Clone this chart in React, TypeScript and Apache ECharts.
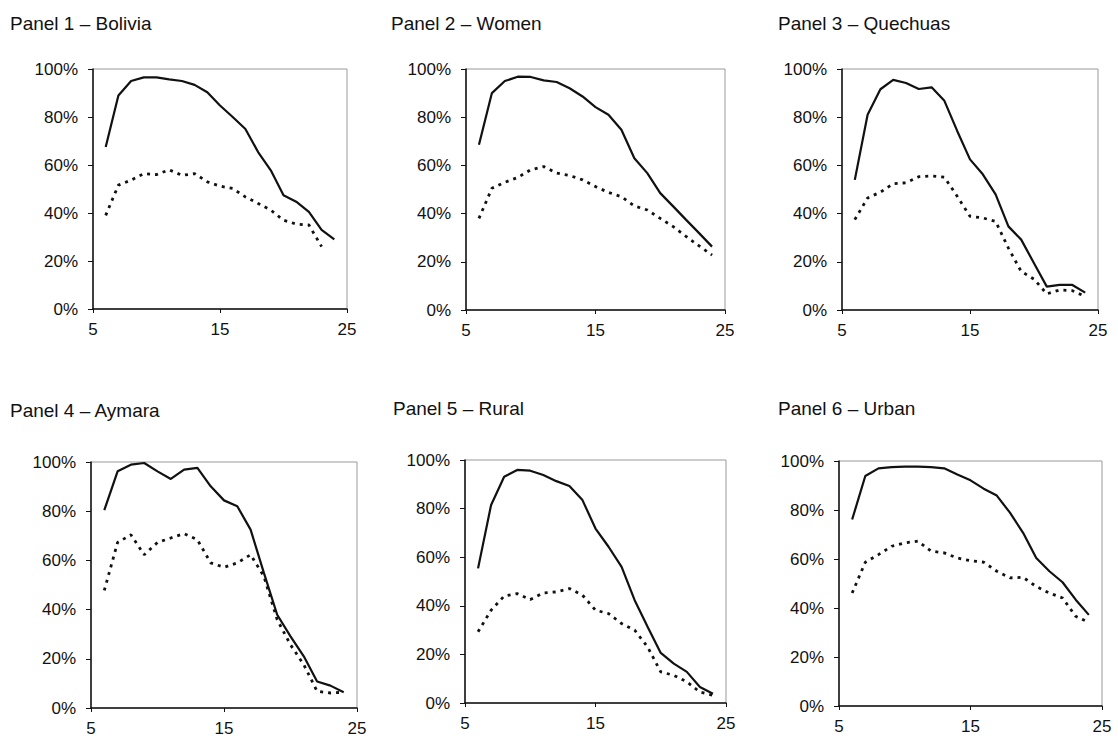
import React, { useEffect, useRef } from "react";
import * as echarts from "echarts";

// ---- data ----
const ages = [6, 7, 8, 9, 10, 11, 12, 13, 14, 15, 16, 17, 18, 19, 20, 21, 22, 23, 24];
const xTicks = [5, 15, 25];
const yTicks = [0, 20, 40, 60, 80, 100];

const titles = [
  "Panel 1 – Bolivia",
  "Panel 2 – Women",
  "Panel 3 – Quechuas",
  "Panel 4 – Aymara",
  "Panel 5 – Rural",
  "Panel 6 – Urban",
];

const solid1 = [67.5, 89, 95, 96.5, 96.5, 95.7, 95, 93.4, 90.3, 84.8, 80, 75, 65.4, 57.8, 47.4, 44.7, 40.5, 33, 29];
const dashed1 = [39, 51.6, 53.7, 56.4, 56, 58, 55.7, 56.4, 53, 51.2, 50.2, 46.7, 44, 41.2, 37, 35.4, 35, 26];

const solid2 = [68.6, 90, 95, 96.8, 96.7, 95.3, 94.6, 92, 88.6, 84.2, 81, 74.8, 63, 56.8, 48.5, 43, 37.4, 31.9, 26.3];
const dashed2 = [38, 50.5, 53, 55, 58.2, 59.5, 56.8, 55.8, 54, 51.2, 48.8, 47, 43.2, 41.5, 38, 34.6, 30.5, 26.6, 22.8];

const solid3 = [54, 81, 91.6, 95.5, 94.2, 91.7, 92.4, 86.8, 74.3, 62.5, 56.3, 48, 34.7, 29.2, 19.4, 9.7, 10.4, 10.4, 7.2];
const dashed3 = [37.5, 46.5, 48.9, 52.4, 52.8, 55.3, 55.6, 55.1, 47.2, 38.9, 38.2, 36.8, 25.7, 16, 12.8, 6.7, 8.3, 8, 5.6];

const solid4 = [80.4, 96.2, 98.9, 99.6, 96.2, 93.1, 96.9, 97.6, 90.1, 84.4, 82, 72.5, 54.9, 37.9, 29.1, 21, 10.8, 9.1, 6.4];
const dashed4 = [47.8, 67.3, 70.4, 62.3, 67.3, 69.1, 70.9, 68.4, 59, 57.2, 59, 62.3, 53.5, 35.9, 25.7, 17.6, 6.8, 6.1, 6.4];

const solid5 = [55.4, 81.5, 93.1, 95.9, 95.6, 93.8, 91.3, 89.3, 83.5, 71.8, 64.3, 56, 42.3, 31.3, 20.6, 16.2, 12.8, 6.6, 3.8];
const dashed5 = [29.3, 38.2, 44, 45, 42.6, 45.3, 45.7, 47.1, 44.4, 38.2, 36.8, 32.7, 30, 23, 12.8, 11.4, 8.7, 4.5, 3.2];

const solid6 = [76.1, 93.9, 97, 97.5, 97.7, 97.7, 97.5, 97, 94.5, 92.1, 88.7, 85.9, 78.9, 70.7, 60.4, 55, 50.5, 43.4, 37.2];
const dashed6 = [46.1, 58.7, 61.8, 65.2, 66.6, 67.3, 63.2, 62.5, 60.4, 59.3, 58.7, 55, 52.3, 52.5, 48.8, 46.1, 44.1, 36.6, 34.1];

const solidSeries = [solid1, solid2, solid3, solid4, solid5, solid6];
const dashedSeries = [dashed1, dashed2, dashed3, dashed4, dashed5, dashed6];

// ---- layout ----
const gridRects = [
  { left: 93, top: 69, width: 254, height: 240 },
  { left: 466, top: 69, width: 259, height: 241 },
  { left: 842, top: 69, width: 256, height: 241 },
  { left: 91, top: 462, width: 266, height: 246 },
  { left: 465, top: 460, width: 261, height: 243 },
  { left: 839, top: 461, width: 263, height: 245 },
];
const titlePos = [
  [10, 30],
  [391, 30],
  [778, 30],
  [10, 417],
  [393, 415],
  [778, 415],
];

const FONT = '"Liberation Sans", Arial, sans-serif';
const INK = "#111";

function pairs(vals: number[]) {
  return vals.map((v, i) => [ages[i], v]);
}

export default function App() {
  const ref = useRef<HTMLDivElement>(null);
  useEffect(() => {
    if (!ref.current) return;
    const chart = echarts.init(ref.current, null, { renderer: "svg" });
    const grids = gridRects.map((r) => ({
      ...r,
      show: true,
      borderColor: "#999",
      borderWidth: 1,
      backgroundColor: "#fff",
    }));
    const xAxes = gridRects.map((_, i) => ({
      type: "value",
      gridIndex: i,
      min: 5,
      max: 25,
      interval: 10,
      splitLine: { show: false },
      axisLine: { show: true, lineStyle: { color: INK, width: 1.5 } },
      axisTick: { show: true, length: 4, inside: false, customValues: xTicks, lineStyle: { color: INK, width: 1 } },
      axisLabel: {
        customValues: xTicks,
        color: INK,
        fontFamily: FONT,
        fontSize: 17,
        margin: 12,
        showMinLabel: true,
        showMaxLabel: true,
      },
    }));
    const yAxes = gridRects.map((_, i) => ({
      type: "value",
      gridIndex: i,
      min: 0,
      max: 100,
      interval: 20,
      splitLine: { show: false },
      axisLine: { show: true, lineStyle: { color: INK, width: 1.5 } },
      axisTick: { show: true, length: 5, customValues: yTicks, lineStyle: { color: INK, width: 1 } },
      axisLabel: {
        customValues: yTicks,
        color: INK,
        fontFamily: FONT,
        fontSize: 17,
        margin: 15,
        formatter: (v: number) => v + "%",
      },
    }));
    const series: any[] = [];
    gridRects.forEach((_, i) => {
      series.push({
        type: "line",
        xAxisIndex: i,
        yAxisIndex: i,
        data: pairs(solidSeries[i]),
        showSymbol: false,
        lineStyle: { color: INK, width: 2.2, type: "solid" },
        z: 3,
      });
      series.push({
        type: "line",
        xAxisIndex: i,
        yAxisIndex: i,
        data: pairs(dashedSeries[i]),
        showSymbol: false,
        lineStyle: { color: INK, width: 2.8, type: [3, 5] },
        z: 2,
      });
    });
    const graphic = titles.map((t, i) => ({
      type: "text",
      x: titlePos[i][0],
      y: titlePos[i][1] - 6.8,
      style: {
        text: t,
        font: `19px ${FONT}`,
        fill: INK,
        verticalAlign: "middle",
        align: "left",
      },
    }));
    chart.setOption({
      animation: false,
      backgroundColor: "#fff",
      grid: grids,
      xAxis: xAxes,
      yAxis: yAxes,
      series,
      graphic,
    });
    return () => chart.dispose();
  }, []);
  return (
    <div
      ref={ref}
      style={{ position: "fixed", left: 0, top: 0, width: 1118, height: 748 }}
    />
  );
}
